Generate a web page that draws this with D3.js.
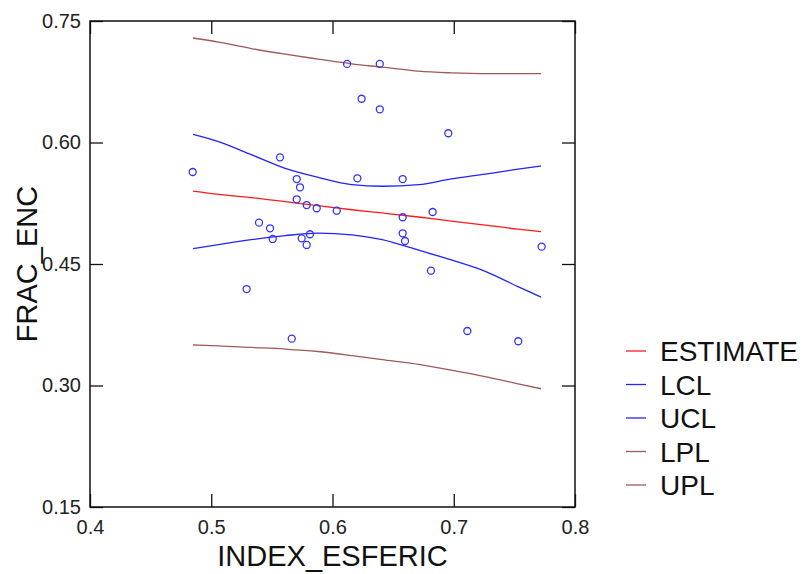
<!DOCTYPE html>
<html lang="en">
<head>
<meta charset="UTF-8">
<title>FRAC_ENC vs INDEX_ESFERIC</title>
<script src="https://cdnjs.cloudflare.com/ajax/libs/d3/7.8.5/d3.min.js"></script>
<style>
  body { margin: 0; background: #fff; }
  svg { display: block; font-family: "Liberation Sans", Arial, sans-serif; }
  .tick text { fill: #222; font-size: 20px; }
  .tick line { stroke: #111; stroke-width: 1.3px; }
</style>
</head>
<body>
<svg id="chart" width="808" height="574"></svg>
<script>
// observed points
const pointX = [0.612, 0.639, 0.624, 0.639, 0.6955, 0.5567, 0.4847, 0.5705, 0.5732, 0.6205,
                0.6579, 0.5705, 0.5787, 0.587, 0.6035, 0.6826, 0.6579, 0.5394, 0.5485, 0.5507,
                0.5746, 0.5814, 0.5787, 0.6579, 0.6598, 0.7725, 0.6812, 0.5292, 0.5664, 0.7112,
                0.7532];
const pointY = [0.697, 0.697, 0.654, 0.641, 0.6114, 0.5817, 0.5636, 0.5549, 0.5447, 0.5558,
                0.5549, 0.5299, 0.5228, 0.5188, 0.5158, 0.5142, 0.5077, 0.501, 0.4941, 0.4809,
                0.4817, 0.4867, 0.4735, 0.4879, 0.4784, 0.4714, 0.4417, 0.4191, 0.3578, 0.3673,
                0.3546];

// fitted line and bands, sampled along x
const gridX    = [0.485, 0.506, 0.533, 0.561, 0.588, 0.616, 0.641, 0.671, 0.698, 0.726, 0.753, 0.772];
const estimate = [0.540, 0.536, 0.532, 0.527, 0.522, 0.517, 0.513, 0.508, 0.503, 0.498, 0.493, 0.490];
const lcl      = [0.469, 0.474, 0.480, 0.485, 0.488, 0.486, 0.480, 0.467, 0.455, 0.441, 0.422, 0.409];
const ucl      = [0.610, 0.601, 0.585, 0.568, 0.557, 0.548, 0.546, 0.548, 0.555, 0.561, 0.567, 0.571];
const lpl      = [0.350, 0.349, 0.347, 0.345, 0.342, 0.337, 0.332, 0.326, 0.319, 0.311, 0.302, 0.296];
const upl      = [0.729, 0.724, 0.716, 0.709, 0.703, 0.697, 0.693, 0.688, 0.686, 0.685, 0.685, 0.685];

const seriesNames  = ['ESTIMATE', 'LCL', 'UCL', 'LPL', 'UPL'];
const seriesColors = ['#ff1a1a', '#2222ff', '#2222ff', '#a05858', '#a05858'];
const seriesValues = [estimate, lcl, ucl, lpl, upl];

const xTicks = [0.4, 0.5, 0.6, 0.7, 0.8];
const yTicks = [0.15, 0.30, 0.45, 0.60, 0.75];

const plotLeft = 90, plotRight = 575, plotTop = 21, plotBottom = 507;

const svg = d3.select('#chart');

const x = d3.scaleLinear().domain([0.4, 0.8]).range([plotLeft, plotRight]);
const y = d3.scaleLinear().domain([0.15, 0.75]).range([plotBottom, plotTop]);

// axes, ticks pointing inward
svg.append('g')
  .attr('transform', `translate(0,${plotBottom})`)
  .call(d3.axisBottom(x).tickValues(xTicks).tickFormat(d3.format('.1f'))
    .tickSizeInner(-13).tickSizeOuter(0).tickPadding(13))
  .call(g => g.select('.domain').remove());

svg.append('g')
  .attr('transform', `translate(0,${plotTop})`)
  .call(d3.axisTop(x).tickValues(xTicks).tickFormat('')
    .tickSizeInner(-13).tickSizeOuter(0))
  .call(g => g.select('.domain').remove());

svg.append('g')
  .attr('transform', `translate(${plotLeft},0)`)
  .call(d3.axisLeft(y).tickValues(yTicks).tickFormat(d3.format('.2f'))
    .tickSizeInner(-13).tickSizeOuter(0).tickPadding(9))
  .call(g => g.select('.domain').remove());

svg.append('g')
  .attr('transform', `translate(${plotRight},0)`)
  .call(d3.axisRight(y).tickValues(yTicks).tickFormat('')
    .tickSizeInner(-13).tickSizeOuter(0))
  .call(g => g.select('.domain').remove());

svg.selectAll('.tick text').attr('font-family', null).attr('font-size', null);

svg.append('rect')
  .attr('x', plotLeft).attr('y', plotTop)
  .attr('width', plotRight - plotLeft).attr('height', plotBottom - plotTop)
  .attr('fill', 'none').attr('stroke', '#111').attr('stroke-width', 1.5);

// curves
const line = d3.line().curve(d3.curveMonotoneX).x(d => x(d[0])).y(d => y(d[1]));
seriesValues.forEach((vals, i) => {
  svg.append('path')
    .datum(gridX.map((gx, j) => [gx, vals[j]]))
    .attr('d', line)
    .attr('fill', 'none')
    .attr('stroke', seriesColors[i])
    .attr('stroke-width', 1.3);
});

// points
svg.append('g')
  .selectAll('circle')
  .data(pointX.map((px, i) => [px, pointY[i]]))
  .enter().append('circle')
  .attr('cx', d => x(d[0]))
  .attr('cy', d => y(d[1]))
  .attr('r', 3.5)
  .attr('fill', 'none')
  .attr('stroke', '#3333ff')
  .attr('stroke-width', 1.3);

// axis titles
svg.append('text')
  .attr('x', (plotLeft + plotRight) / 2).attr('y', 566)
  .attr('text-anchor', 'middle')
  .attr('font-size', 29).attr('fill', '#111')
  .text('INDEX_ESFERIC');

svg.append('text')
  .attr('transform', `translate(37,${(plotTop + plotBottom) / 2}) rotate(-90)`)
  .attr('text-anchor', 'middle')
  .attr('font-size', 29).attr('fill', '#111')
  .text('FRAC_ENC');

// legend
const legend = svg.append('g')
  .selectAll('g')
  .data(seriesNames)
  .enter().append('g')
  .attr('transform', (d, i) => `translate(626,${351 + i * 33.5})`);

legend.append('line')
  .attr('x1', 0).attr('x2', 20)
  .attr('stroke', (d, i) => seriesColors[i])
  .attr('stroke-width', 1.3);

legend.append('text')
  .attr('x', 34).attr('dy', '0.36em')
  .attr('font-size', 28).attr('fill', '#111')
  .text(d => d);
</script>
</body>
</html>
